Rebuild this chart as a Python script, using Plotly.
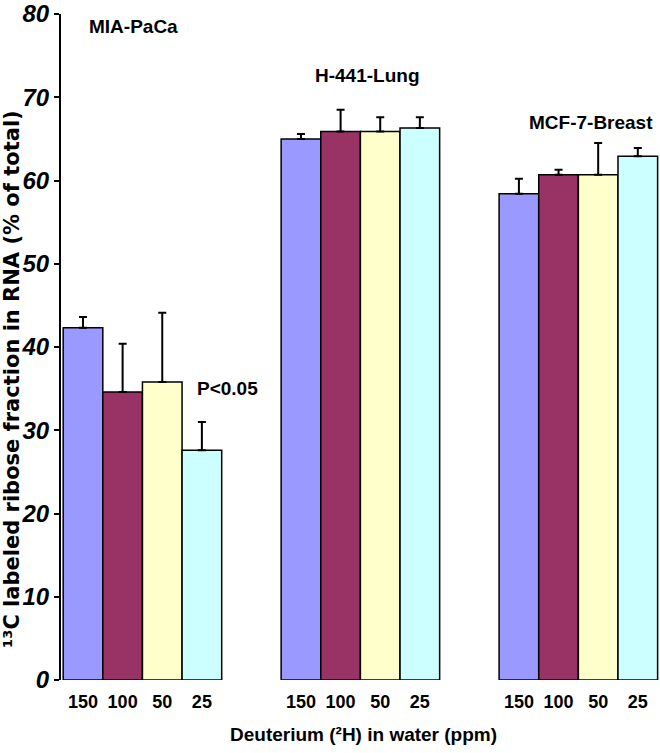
import plotly.graph_objects as go

# ---- data ----
cell_lines = ["MIA-PaCa", "H-441-Lung", "MCF-7-Breast"]
doses = ["150", "100", "50", "25"]
vals_150 = [42.3, 65.0, 58.4]
vals_100 = [34.6, 65.9, 60.7]
vals_50 = [35.8, 65.9, 60.7]
vals_25 = [27.6, 66.3, 62.9]
err_150 = [1.3, 0.6, 1.8]
err_100 = [5.8, 2.6, 0.6]
err_50 = [8.3, 1.7, 3.8]
err_25 = [3.4, 1.3, 1.0]
y_ticks = [0, 10, 20, 30, 40, 50, 60, 70, 80]

series_vals = [vals_150, vals_100, vals_50, vals_25]
series_errs = [err_150, err_100, err_50, err_25]
colors = ["#9999FF", "#993366", "#FFFFCC", "#CCFFFF"]

GROUP_STEP = 5.5
SANS = "Liberation Sans, Arial, sans-serif"

fig = go.Figure()
tickvals, ticktext = [], []
for i, (vals, errs, col) in enumerate(zip(series_vals, series_errs, colors)):
    xs = [g * GROUP_STEP + i for g in range(len(cell_lines))]
    tickvals += xs
    ticktext += [doses[i]] * len(xs)
    fig.add_trace(go.Bar(
        x=xs, y=vals, width=1.0, name=doses[i],
        marker=dict(color=col, line=dict(color="black", width=1.5)),
        error_y=dict(type="data", array=errs, arrayminus=[0] * len(errs),
                     symmetric=False, color="black", thickness=2, width=4),
        showlegend=False,
    ))

L, T, B = 61, 14, 73
W, H = 660, 753
plot_h = H - T - B
plot_w = W - L

def px_x(p):
    return (p - L) / plot_w

def px_y(p):
    return (T + plot_h - p) / plot_h

label_font = dict(family=SANS, size=19, color="black", weight="bold")
anns = [
    dict(text=cell_lines[0], x=px_x(133), y=px_y(26)),
    dict(text=cell_lines[1], x=px_x(368), y=px_y(75)),
    dict(text=cell_lines[2], x=px_x(591), y=px_y(122)),
    dict(text="P<0.05", x=px_x(227), y=px_y(388)),
    dict(text="Deuterium (²H) in water (ppm)", x=px_x(363), y=px_y(734)),
]
for a in anns:
    fig.add_annotation(xref="paper", yref="paper", xanchor="center", yanchor="middle",
                       showarrow=False, font=label_font, **a)

fig.add_annotation(xref="paper", yref="paper", x=px_x(12), y=px_y(379),
                   xanchor="center", yanchor="middle", textangle=-90, showarrow=False,
                   text="¹³C labeled ribose fraction in RNA (% of total)",
                   font=dict(family="DejaVu Sans, sans-serif", size=21, color="black", weight="bold"))

fig.update_layout(
    width=W, height=H,
    margin=dict(l=L, r=0, t=T, b=B, pad=0),
    paper_bgcolor="white", plot_bgcolor="white",
    barmode="overlay",
    xaxis=dict(range=[-0.555, 14.56], tickvals=tickvals, ticktext=ticktext,
               showgrid=False, zeroline=False, showline=False, ticks="",
               ticklabelstandoff=9,
               tickfont=dict(family=SANS, size=18, color="black", weight="bold")),
    yaxis=dict(range=[0, 80], tickvals=y_ticks, showgrid=False, zeroline=False,
               showline=True, linecolor="black", linewidth=2,
               ticks="outside", ticklen=5, tickwidth=2, tickcolor="black",
               ticklabeloverflow="allow",
               tickfont=dict(family=SANS, size=24, color="black",
                             weight="bold", style="italic")),
)

fig.write_html("out.html", config={"displayModeBar": False},
               post_script="document.body.style.margin='0px';")
